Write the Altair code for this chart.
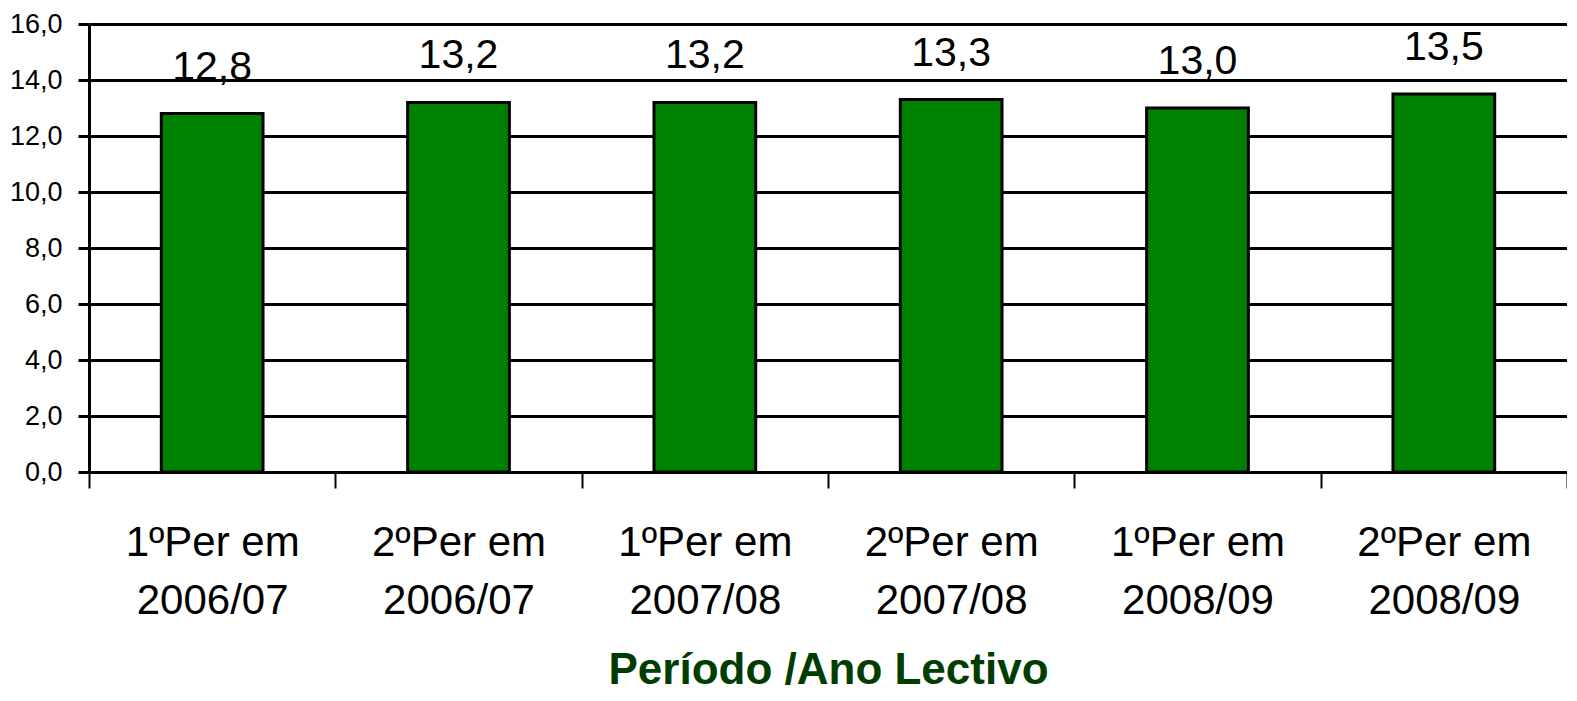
import altair as alt
import pandas as pd

periods = ["1ºPer em", "2ºPer em", "1ºPer em", "2ºPer em", "1ºPer em", "2ºPer em"]
years = ["2006/07", "2006/07", "2007/08", "2007/08", "2008/09", "2008/09"]
values = [12.8, 13.2, 13.2, 13.3, 13.0, 13.5]

df = pd.DataFrame({
    "cat": [p + "\n" + y for p, y in zip(periods, years)],
    "value": values,
})
order = list(df["cat"])

x_enc = alt.X(
    "cat:N",
    sort=order,
    scale=alt.Scale(paddingInner=0, paddingOuter=0),
    axis=alt.Axis(
        title="Período /Ano Lectivo",
        titleFont="Liberation Sans",
        titleFontSize=44,
        titleFontWeight="bold",
        titleColor="#003d00",
        titleBaseline="alphabetic",
        titleY=211,
        labelExpr="split(datum.label, '\\n')",
        labelFont="Liberation Sans",
        labelFontSize=42,
        labelColor="black",
        labelAngle=0,
        labelBaseline="top",
        labelLineHeight=58,
        labelPadding=34,
        tickBand="extent",
        tickSize=16,
        tickWidth=2,
        tickColor="black",
        domainColor="black",
        domainWidth=3,
        grid=False,
    ),
)

bars = alt.Chart(df).mark_bar(
    color="#008000", stroke="black", strokeWidth=3, width={"band": 0.413}
).encode(
    x=x_enc,
    y=alt.Y(
        "value:Q",
        scale=alt.Scale(domain=[0, 16], nice=False),
        axis=alt.Axis(
            title=None,
            values=[0, 2, 4, 6, 8, 10, 12, 14, 16],
            labelExpr="replace(format(datum.value, '.1f'), '.', ',')",
            labelFont="Liberation Sans",
            labelFontSize=27,
            labelColor="black",
            labelPadding=16,
            tickSize=11,
            tickWidth=3,
            tickColor="black",
            domainColor="black",
            domainWidth=3,
            grid=True,
            gridColor="black",
            gridWidth=3,
            gridOpacity=1,
        ),
    ),
)

texts = alt.Chart(df).transform_calculate(
    lbl="replace(format(datum.value, '.1f'), '.', ',')"
).mark_text(
    baseline="alphabetic",
    dy=-34,
    font="Liberation Sans",
    fontSize=41,
    color="black",
).encode(
    x=alt.X("cat:N", sort=order),
    y=alt.Y("value:Q"),
    text="lbl:N",
)

chart = alt.layer(bars, texts).properties(
    width=1478,
    height=448,
    autosize=alt.AutoSizeParams(type="none"),
    padding={"left": 81, "top": 16, "right": 0, "bottom": 221},
).configure_view(stroke=None)

chart.save("out.html", embed_options={"renderer": "svg", "actions": False})
